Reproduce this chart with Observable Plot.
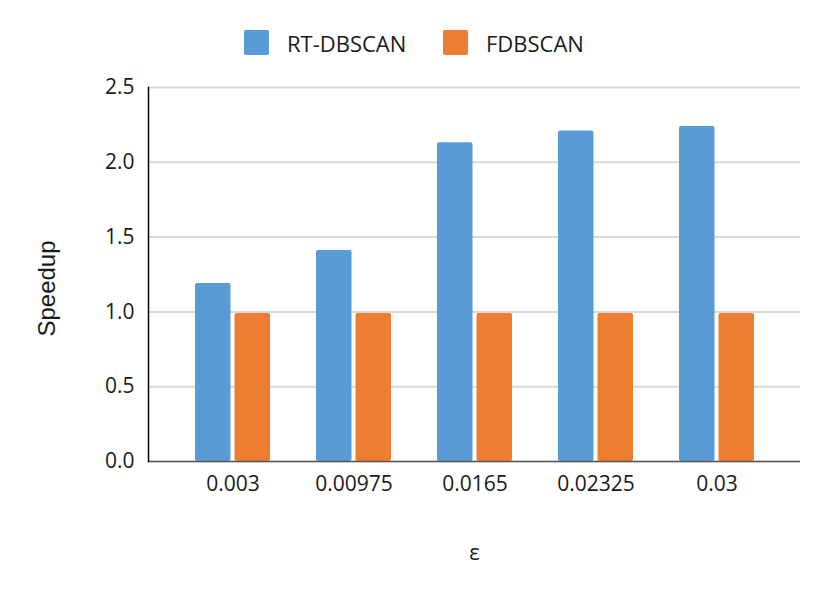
<!DOCTYPE html>
<html>
<head>
<meta charset="utf-8">
<script src="https://cdn.jsdelivr.net/npm/d3@7"></script>
<script src="https://cdn.jsdelivr.net/npm/@observablehq/plot@0.6"></script>
<style>
  body { margin: 0; background: #fff; font-family: "Open Sans", sans-serif; }
  #legend { position: relative; width: 830px; height: 70px; }
  .sw { position: absolute; top: 30px; width: 25px; height: 25px; border-radius: 2px; }
  .lt { position: absolute; top: 42.5px; transform: translateY(-50%); font-size: 22px; color: #1a1a1a; line-height: 1; }
  svg { display: block; }
</style>
</head>
<body>
<div id="legend"></div>
<div id="chart"></div>
<script>
const categories = ["0.003", "0.00975", "0.0165", "0.02325", "0.03"];
const rtDbscan = [1.19, 1.41, 2.13, 2.21, 2.24];
const fdbscan = [0.99, 0.99, 0.99, 0.99, 0.99];
const yTicks = [0, 0.5, 1.0, 1.5, 2.0, 2.5];
const seriesNames = ["RT-DBSCAN", "FDBSCAN"];
const seriesColors = ["#5B9BD5", "#ED7D31"];
const yLabel = "Speedup";
const xLabel = "ε";

// legend
const legend = document.getElementById("legend");
const legendPos = [[244, 287], [443, 486]];
seriesNames.forEach((name, i) => {
  const sw = document.createElement("div");
  sw.className = "sw";
  sw.style.left = legendPos[i][0] + "px";
  sw.style.background = seriesColors[i];
  legend.appendChild(sw);
  const t = document.createElement("div");
  t.className = "lt";
  t.style.left = legendPos[i][1] + "px";
  t.textContent = name;
  legend.appendChild(t);
});

const rows = [];
categories.forEach((c, i) => {
  rows.push({eps: c, series: seriesNames[0], value: rtDbscan[i]});
  rows.push({eps: c, series: seriesNames[1], value: fdbscan[i]});
});
const blueRows = rows.filter(d => d.series === seriesNames[0]);
const orangeRows = rows.filter(d => d.series === seriesNames[1]);

const chart = Plot.plot({
  width: 830,
  height: 526,
  marginLeft: 148,
  marginRight: 30,
  marginTop: 17,
  marginBottom: 135,
  style: {fontFamily: "Open Sans, sans-serif", fontSize: "21px", color: "#1a1a1a", background: "#fff"},
  x: {domain: categories, paddingInner: 0.383, paddingOuter: 0.375, label: null, tickSize: 0, tickPadding: 15},
  y: {domain: [0, 2.5], ticks: yTicks, tickFormat: d3.format(".1f"), label: null, tickSize: 0, tickPadding: 14},
  color: {domain: seriesNames, range: seriesColors},
  marks: [
    Plot.ruleY(yTicks, {stroke: "#d9d9d9", strokeWidth: 2}),
    Plot.barY(blueRows, {x: "eps", y: "value", fill: "series", insetRight: 39.5, rx: 2}),
    Plot.barY(orangeRows, {x: "eps", y: "value", fill: "series", insetLeft: 39.5, rx: 2}),
    Plot.ruleY([0], {stroke: "#595959", strokeWidth: 1.5}),
    Plot.frame({anchor: "left", stroke: "#000", strokeWidth: 1.5}),
    Plot.text([yLabel], {frameAnchor: "left", textAnchor: "middle", rotate: -90, dx: -101, dy: 14, fontSize: 24, fontFamily: "Liberation Sans, Arial, sans-serif", fill: "#1a1a1a"}),
    Plot.text([xLabel], {frameAnchor: "bottom", dy: 98, fontSize: 22, fill: "#1a1a1a"})
  ]
});
document.getElementById("chart").appendChild(chart);
</script>
</body>
</html>
